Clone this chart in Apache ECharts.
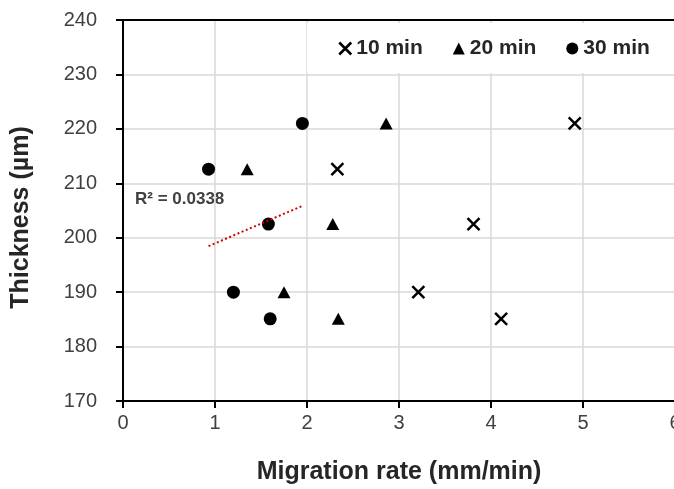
<!DOCTYPE html>
<html>
<head>
<meta charset="utf-8">
<script src="https://cdn.jsdelivr.net/npm/echarts@6/dist/echarts.min.js"></script>
<style>
  html, body { margin: 0; padding: 0; background: #fff; }
  #chart { width: 674px; height: 489px; }
</style>
</head>
<body>
<div id="chart"></div>
<script>
// values
var xTicks = [0, 1, 2, 3, 4, 5, 6];
var yTicks = [170, 180, 190, 200, 210, 220, 230, 240];

var rate10 = [4.91, 2.33, 3.81, 3.21, 4.11];
var thick10 = [221, 212.6, 202.5, 190, 185.1];

var rate20 = [2.86, 1.35, 2.28, 1.75, 2.34];
var thick20 = [221, 212.6, 202.5, 190, 185.1];

var rate30 = [1.95, 0.93, 1.58, 1.20, 1.60];
var thick30 = [221, 212.6, 202.5, 190, 185.1];

var seriesNames = ['10 min', '20 min', '30 min'];
var r2Label = 'R\u00b2 = 0.0338';

function pairs(xs, ys) {
	var out = [];
	for (var i = 0; i < xs.length; i++) out.push([xs[i], ys[i]]);
	return out;
}

// linear trendline over the 30 min points
function trend(xs, ys) {
	var n = xs.length, mx = 0, my = 0, sxy = 0, sxx = 0;
	for (var i = 0; i < n; i++) { mx += xs[i]; my += ys[i]; }
	mx /= n; my /= n;
	for (var j = 0; j < n; j++) {
		sxy += (xs[j] - mx) * (ys[j] - my);
		sxx += (xs[j] - mx) * (xs[j] - mx);
	}
	var b = sxy / sxx, a = my - b * mx;
	var lo = Math.min.apply(null, xs), hi = Math.max.apply(null, xs);
	return [[lo, a + b * lo], [hi, a + b * hi]];
}

var crossPath = 'path://M0,0L12,12M12,0L0,12';
var labelColor = '#404040';
var nameColor = '#262626';
var fontFam = 'Arial, "Liberation Sans", sans-serif';

var myChart = echarts.init(document.getElementById('chart'));
var option = {
	backgroundColor: '#fff',
	animation: false,
	textStyle: { fontFamily: fontFam },
	grid: { left: 123, top: 20, width: 552, height: 381, outerBoundsMode: 'none' },
	legend: {
		left: 307,
		top: 23,
		width: 360,
		padding: [15, 40, 14, 31],
		backgroundColor: '#fff',
		itemWidth: 12,
		itemHeight: 12,
		itemGap: 30,
		textStyle: { fontSize: 21, fontWeight: 'bold', color: nameColor, fontFamily: fontFam },
		data: [
			{ name: seriesNames[0], icon: crossPath, itemStyle: { color: 'transparent', borderColor: '#000', borderWidth: 2.5, opacity: 1 } },
			{ name: seriesNames[1], icon: 'triangle', itemStyle: { opacity: 1 } },
			{ name: seriesNames[2], icon: 'circle', itemStyle: { opacity: 1 } }
		]
	},
	graphic: [{
		type: 'text',
		left: 135,
		top: 191,
		style: {
			text: r2Label,
			fill: '#404040',
			font: 'bold 17px Arial, "Liberation Sans", sans-serif'
		}
	}],
	xAxis: [{
		type: 'value',
		min: xTicks[0],
		max: xTicks[xTicks.length - 1],
		interval: 1,
		name: 'Migration rate (mm/min)',
		nameLocation: 'middle',
		nameGap: 59,
		nameTextStyle: { fontSize: 25, fontWeight: 'bold', color: nameColor, fontFamily: fontFam },
		axisLine: { onZero: false, lineStyle: { color: '#000', width: 2 } },
		axisTick: { show: true, inside: false, length: 7, lineStyle: { color: '#000', width: 2 } },
		axisLabel: { fontSize: 20, color: labelColor, margin: 12 },
		splitLine: { show: true, lineStyle: { color: '#d9d9d9', width: 1.5 } }
	}, {
		type: 'value',
		position: 'top',
		min: xTicks[0],
		max: xTicks[xTicks.length - 1],
		axisLine: { show: true, lineStyle: { color: '#000', width: 2 } },
		axisTick: { show: false },
		axisLabel: { show: false },
		splitLine: { show: false }
	}],
	yAxis: {
		type: 'value',
		min: yTicks[0],
		max: yTicks[yTicks.length - 1],
		interval: 10,
		name: 'Thickness (\u00b5m)',
		nameLocation: 'middle',
		nameGap: 89,
		nameTextStyle: { fontSize: 25, fontWeight: 'bold', color: nameColor, fontFamily: fontFam, padding: [0, 14, 0, 0] },
		axisLine: { show: true, onZero: false, lineStyle: { color: '#000', width: 2 } },
		axisTick: { show: true, inside: false, length: 7, lineStyle: { color: '#000', width: 2 } },
		axisLabel: { fontSize: 20, color: labelColor, margin: 26 },
		splitLine: { show: true, lineStyle: { color: '#d9d9d9', width: 1.5 } }
	},
	series: [{
		name: seriesNames[0],
		type: 'scatter',
		symbol: crossPath,
		symbolSize: 12,
		itemStyle: { color: 'transparent', borderColor: '#000', borderWidth: 2.5, opacity: 1 },
		data: pairs(rate10, thick10)
	}, {
		name: seriesNames[1],
		type: 'scatter',
		symbol: 'triangle',
		symbolSize: [13, 12],
		itemStyle: { color: '#000', opacity: 1 },
		data: pairs(rate20, thick20)
	}, {
		name: seriesNames[2],
		type: 'scatter',
		symbol: 'circle',
		symbolSize: 13,
		itemStyle: { color: '#000', opacity: 1 },
		data: pairs(rate30, thick30)
	}, {
		name: 'trend',
		type: 'line',
		symbol: 'none',
		silent: true,
		z: 3,
		lineStyle: { color: '#d00000', width: 2, type: [2, 2.5] },
		data: trend(rate30, thick30)
	}]
};
myChart.setOption(option);
</script>
</body>
</html>
